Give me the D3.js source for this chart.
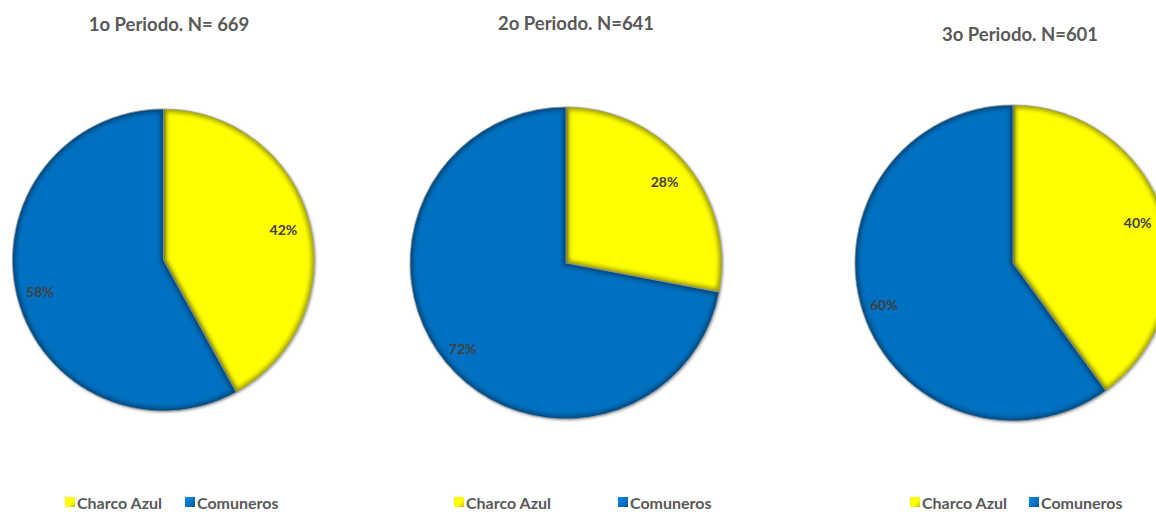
<!DOCTYPE html>
<html>
<head>
<meta charset="utf-8">
<script src="https://cdn.jsdelivr.net/npm/d3@7"></script>
<style>
  html, body { margin: 0; padding: 0; background: #fff; }
  svg { display: block; }
  text { font-family: Lato, "Open Sans", sans-serif; font-weight: bold; }
</style>
</head>
<body>
<svg id="chart" width="1156" height="512"></svg>
<script>
// Share of students per school, by period
const categories = ["Charco Azul", "Comuneros"];
const periods = ["1o Periodo. N= 669", "2o Periodo. N=641", "3o Periodo. N=601"];
const charcoAzul = [42, 28, 40];
const comuneros = [58, 72, 60];
const colors = ["#FFFF00", "#0070C0"];

// Layout of each panel
const panels = [
  { cx: 163.5, cy: 260, r: 151, titleX: 169, titleY: 24, legend: [65, 185], labelR: [0.82, 0.845] },
  { cx: 566, cy: 263, r: 156, titleX: 576, titleY: 23, legend: [454, 618], labelR: [0.82, 0.86] },
  { cx: 1013, cy: 263, r: 158, titleX: 1020, titleY: 34, legend: [910, 1029], labelR: [0.83, 0.86] }
];

const svg = d3.select("#chart");
const defs = svg.append("defs");

// Soft inner edge for the bevelled slices
const blur = defs.append("filter").attr("id", "edgeBlur")
  .attr("x", "-10%").attr("y", "-10%").attr("width", "120%").attr("height", "120%");
blur.append("feGaussianBlur").attr("stdDeviation", 2.2);

const shadow = defs.append("filter").attr("id", "dropShadow")
  .attr("x", "-10%").attr("y", "-10%").attr("width", "120%").attr("height", "120%");
shadow.append("feGaussianBlur").attr("in", "SourceAlpha").attr("stdDeviation", 1.5).attr("result", "b");
shadow.append("feOffset").attr("dx", 0.5).attr("dy", 1).attr("result", "o");
shadow.append("feComponentTransfer").append("feFuncA").attr("type", "linear").attr("slope", 0.45);
const merge = shadow.append("feMerge");
merge.append("feMergeNode");
merge.append("feMergeNode").attr("in", "SourceGraphic");

// Legend swatch gradients
const swatchGrad = colors.map((c, i) => {
  const g = defs.append("linearGradient").attr("id", "sw" + i)
    .attr("x1", 0).attr("y1", 0).attr("x2", 1).attr("y2", 1);
  g.append("stop").attr("offset", "0%").attr("stop-color", d3.color(c).brighter(0.6));
  g.append("stop").attr("offset", "60%").attr("stop-color", c);
  g.append("stop").attr("offset", "100%").attr("stop-color", d3.color(c).darker(0.8));
  return "url(#sw" + i + ")";
});

const pie = d3.pie().sort(null).value(d => d);

periods.forEach((title, p) => {
  const cfg = panels[p];
  const values = [charcoAzul[p], comuneros[p]];
  const arcs = pie(values);
  const arc = d3.arc().innerRadius(0).outerRadius(cfg.r);

  const g = svg.append("g").attr("transform", `translate(${cfg.cx},${cfg.cy})`);

  // Slices
  const slices = g.selectAll("g.slice").data(arcs).join("g").attr("class", "slice");
  slices.each(function (d, i) {
    const s = d3.select(this);
    const clipId = `clip${p}_${i}`;
    defs.append("clipPath").attr("id", clipId)
      .append("path").attr("d", arc(d));
    s.append("path")
      .attr("d", arc(d))
      .attr("fill", colors[i])
      .attr("filter", "url(#dropShadow)");
    // inner bevel shading along slice edges
    s.append("path")
      .attr("d", arc(d))
      .attr("fill", "none")
      .attr("stroke", "rgba(0,0,0,0.38)")
      .attr("stroke-width", 6)
      .attr("filter", "url(#edgeBlur)")
      .attr("clip-path", `url(#${clipId})`);
    s.append("path")
      .attr("d", arc(d))
      .attr("fill", "none")
      .attr("stroke", "#9a9a9a")
      .attr("stroke-width", 0.8);
  });

  // Percentage labels
  g.selectAll("text.pct").data(arcs).join("text")
    .attr("class", "pct")
    .attr("text-anchor", "middle")
    .attr("dominant-baseline", "central")
    .attr("font-size", 14)
    .attr("fill", "#404040")
    .attr("transform", (d, i) => {
      const a = (d.startAngle + d.endAngle) / 2;
      const rr = cfg.r * cfg.labelR[i];
      return `translate(${Math.sin(a) * rr},${-Math.cos(a) * rr})`;
    })
    .text(d => d.data + "%");

  // Title
  svg.append("text")
    .attr("x", cfg.titleX).attr("y", cfg.titleY)
    .attr("text-anchor", "middle")
    .attr("dominant-baseline", "central")
    .attr("font-size", 18.5)
    .attr("fill", "#595959")
    .text(title);

  // Legend
  categories.forEach((c, i) => {
    const lx = cfg.legend[i];
    svg.append("rect")
      .attr("x", lx).attr("y", 497).attr("width", 10).attr("height", 10)
      .attr("fill", swatchGrad[i]);
    svg.append("text")
      .attr("x", lx + 12).attr("y", 502)
      .attr("dominant-baseline", "central")
      .attr("font-size", 16)
      .attr("fill", "#595959")
      .text(c);
  });
});
</script>
</body>
</html>
